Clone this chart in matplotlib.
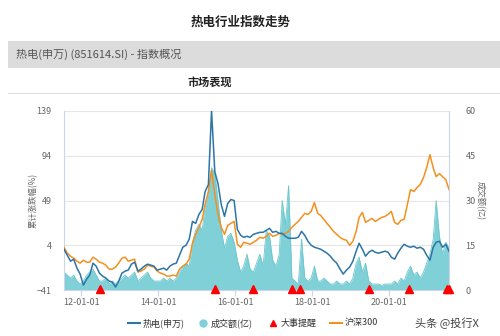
import matplotlib
matplotlib.use("Agg")
import matplotlib.pyplot as plt
from matplotlib.lines import Line2D
import pandas as pd

plt.rcParams['font.family'] = ['Noto Sans CJK SC', 'DejaVu Sans']

# ---------------- data (monthly readings from the chart) ----------------
start_date = "2011-07-22"
n_months = 121

index_pct = [  # 热电(申万) cumulative change, %
    0, -6, -12, -10, -19, -25,
    -36, -30, -26, -14, -17, -24, -27, -29, -32, -33, -38, -32,
    -24, -22, -21, -15, -13, -22, -20, -17, -15, -16, -17, -21,
    -20, -19, -21, -17, -15, -14, -6, 2, 4, 10, 28, 26,
    35, 40, 58, 65, 139, 78, 66, 45, 33, 46, 50, 49,
    20, 14, 12, 13, 12, 15, 16, 17, 17, 19, 21, 17,
    18, 16, 16, 13, 11, 11, 11, 12, 18, 14, 8, 4,
    2, 1, 0, -2, -4, -7, -11, -14, -20, -25, -21, -18,
    -12, -2, 6, 0, -7, -3, -1, -3, -4, -3, -2, -3,
    -8, -10, -4, 1, 5, 3, 2, 3, 1, 2, 0, -6,
    -11, 2, 7, 8, 2, 5, -2,
]

hs300_pct = [  # 沪深300 cumulative change, %
    2, -4, -7, -9, -12, -14,
    -11, -13, -13, -8, -10, -13, -14, -16, -20, -20, -18, -14,
    -9, -8, -12, -11, -10, -23, -22, -20, -16, -17, -18, -22,
    -24, -25, -27, -27, -26, -27, -20, -17, -15, -10, 6, 15,
    22, 30, 45, 58, 79, 55, 35, 22, 15, 24, 26, 28,
    5, 2, 7, 6, 5, 7, 9, 12, 11, 13, 16, 13,
    14, 16, 15, 16, 18, 22, 25, 28, 32, 36, 35, 38,
    47, 36, 34, 30, 26, 22, 18, 15, 12, 10, 9, 4,
    8, 18, 32, 37, 27, 29, 31, 28, 30, 32, 33, 35,
    38, 27, 25, 29, 30, 45, 60, 58, 62, 65, 72, 82,
    95, 82, 73, 76, 73, 70, 60,
]

turnover = [  # 成交额(亿)
    6, 5, 4, 5, 3, 2,
    3, 5, 6, 7, 5, 3, 3, 4, 2, 3, 2, 3,
    4, 5, 4, 5, 6, 3, 4, 5, 6, 4, 3, 3,
    3, 4, 3, 4, 3, 4, 6, 8, 9, 8, 16, 20,
    22, 20, 28, 33, 41, 39, 30, 20, 14, 18, 19, 16,
    10, 6, 8, 12, 7, 6, 9, 12, 8, 20, 18, 10,
    8, 12, 30, 22, 35, 4, 3, 2, 17, 4, 3, 4,
    8, 3, 3, 4, 3, 2, 2, 3, 2, 2, 3, 2,
    4, 9, 11, 6, 9, 3, 2, 2, 2, 1.5, 2, 2,
    2, 3, 2, 4, 3, 6, 8, 5, 6, 4, 6, 9,
    12, 17, 30, 18, 12, 16, 14,
]

event_dates = ["2012-06-28", "2015-06-25", "2016-06-20", "2017-06-25",
               "2017-09-08", "2019-06-25", "2020-07-08", "2021-07-05",
               "2021-07-18"]

left_ticks = [-41, 4, 49, 94, 139]
right_ticks = [0, 15, 30, 45, 60]
x_tick_dates = ["2012-01-01", "2014-01-01", "2016-01-01", "2018-01-01", "2020-01-01"]
x_tick_labels = ["12-01-01", "14-01-01", "16-01-01", "18-01-01", "20-01-01"]

title = "热电行业指数走势"
subtitle = "热电(申万) (851614.SI) - 指数概况"
panel_title = "市场表现"
legend_labels = ["热电(申万)", "成交额(亿)", "大事提醒", "沪深300"]

# ---------------- figure ----------------
dates = pd.date_range(start_date, periods=n_months, freq=pd.DateOffset(months=1))
W, H = 500, 336
fig = plt.figure(figsize=(W / 100, H / 100), dpi=100)
fig.patch.set_facecolor("white")

c_blue = "#2c75a6"
c_orange = "#f5901e"
c_teal = "#7fd0d7"
c_grid = "#e6e6e6"
c_axis = "#ccd6eb"
c_text = "#666666"

# header elements
fig.text(241 / W, 1 - 22 / H, title, ha="center", va="center", fontsize=9, fontweight="bold", color="#222222")
fig.patches.append(plt.Rectangle((8 / W, 1 - 68 / H), 1, 27 / H, transform=fig.transFigure,
                                 facecolor="#dcdcdc", edgecolor="none"))
fig.text(16 / W, 1 - 54.5 / H, subtitle, ha="left", va="center", fontsize=8, color="#555555")
fig.text(210 / W, 1 - 82 / H, panel_title, ha="center", va="center", fontsize=8, fontweight="bold", color="#222222")
fig.lines.append(Line2D([8 / W, 1], [1 - 93 / H, 1 - 93 / H], transform=fig.transFigure,
                        color="#dddddd", lw=0.8))

# axes: volume axis underneath (right ticks), percent axis on top (left ticks)
x0, x1, y0, y1 = 64, 449, 111, 290
ax = fig.add_axes([x0 / W, 1 - y1 / H, (x1 - x0) / W, (y1 - y0) / H])
axl = ax.twinx()

ax.fill_between(dates, 0, turnover, color=c_teal, lw=0, zorder=1)
ax.plot(dates, turnover, color="#6cc6cf", lw=0.6, zorder=1)
ax.set_ylim(0, 60)
ax.set_yticks(right_ticks)
ax.yaxis.tick_right()
ax.yaxis.set_label_position("right")
ax.set_ylabel("成交额(亿)", rotation=-90, fontsize=6, color=c_text, va="center", ha="center")
ax.yaxis.set_label_coords((480 - x0) / (x1 - x0), 0.5)

axl.yaxis.tick_left()
axl.yaxis.set_label_position("left")
axl.set_ylim(-41, 139)
axl.set_yticks(left_ticks)
for v in left_ticks:
    ax.axhline((v + 41) / 180 * 60, color=c_grid, lw=0.8, zorder=0)
axl.plot(dates, hs300_pct, color=c_orange, lw=1.1, zorder=3)
axl.plot(dates, index_pct, color=c_blue, lw=1.1, zorder=4)
ev = pd.to_datetime(event_dates)
axl.plot(ev, [-41 + 1.5] * len(ev), ls="none", marker="^", color="#ff0000", ms=5.5, clip_on=False, zorder=6)
axl.set_ylabel("累计涨跌幅(%)", fontsize=6, color=c_text, va="center", ha="center")
axl.yaxis.set_label_coords((33 - x0) / (x1 - x0), 0.5)

xlim = (pd.Timestamp("2011-07-22"), pd.Timestamp("2021-07-22"))
ax.set_xlim(xlim)
axl.set_xlim(xlim)
ax.set_xticks(pd.to_datetime(x_tick_dates))
ax.set_xticklabels(x_tick_labels)

for a in (ax, axl):
    for s in a.spines.values():
        s.set_visible(False)
    a.set_facecolor("none")
axl.tick_params(axis="y", length=0, labelsize=6.5, labelcolor=c_text, pad=9)
ax.tick_params(axis="y", length=0, labelsize=6.5, labelcolor=c_text, pad=12)
ax.tick_params(axis="x", length=4, color=c_axis, labelsize=6.5, labelcolor=c_text, pad=2)
for k in ("left", "right", "bottom"):
    ax.spines[k].set_visible(True)
    ax.spines[k].set_color(c_axis)
    ax.spines[k].set_linewidth(0.8)

# legend (manual)
ly = 1 - 323 / H
fig.lines.append(Line2D([128 / W, 140 / W], [ly, ly], transform=fig.transFigure, color=c_blue, lw=1.5))
fig.text(143 / W, ly, legend_labels[0], ha="left", va="center", fontsize=6.5, color="#333333")
fig.lines.append(Line2D([203 / W], [ly], transform=fig.transFigure, marker="o", ms=5, color=c_teal, ls="none"))
fig.text(211 / W, ly, legend_labels[1], ha="left", va="center", fontsize=6.5, color="#333333")
fig.lines.append(Line2D([273 / W], [ly], transform=fig.transFigure, marker="^", ms=5, color="#ff0000", ls="none"))
fig.text(281 / W, ly, legend_labels[2], ha="left", va="center", fontsize=6.5, color="#333333")
fig.lines.append(Line2D([330 / W, 342 / W], [ly, ly], transform=fig.transFigure, color=c_orange, lw=1.5))
fig.text(345 / W, ly, legend_labels[3], ha="left", va="center", fontsize=6.5, color="#333333")
fig.text(415 / W, ly, "头条 @投行X", ha="left", va="center", fontsize=8, color="#444444")

fig.savefig("out.png", dpi=100)
